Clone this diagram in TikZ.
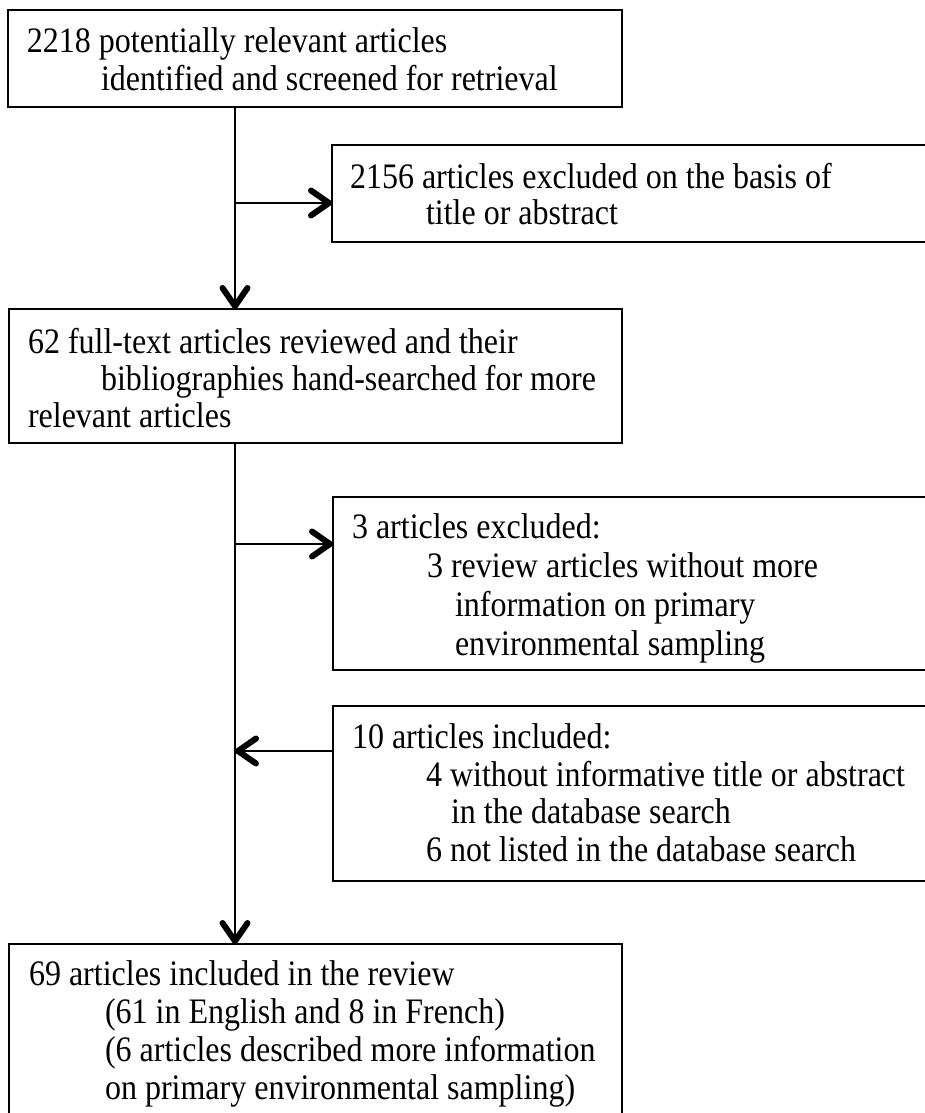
\documentclass[tikz,border=0pt]{standalone}
\usepackage{fontspec}
\usepackage{graphicx}
\setmainfont{Liberation Serif}
\usetikzlibrary{arrows.meta}
\newcommand{\vstretch}[1]{\scalebox{1}[1.12]{#1}}
\tikzset{
  box/.style={draw=black, line width=1.9pt, rectangle, inner sep=0pt, outer sep=0pt},
  txt/.style={anchor=base west, inner sep=0pt, outer sep=0pt, font=\fontsize{32}{38}\selectfont},
  arr/.style={line width=2.2pt, -{Straight Barb[length=18pt,width=25pt,line width=6pt,round]}},
  link/.style={line width=2pt}
}
\begin{document}
\begin{tikzpicture}[x=1pt,y=-1pt]
\path[use as bounding box, clip] (0,0) rectangle (925,1113);
% boxes
\node[box, minimum width=614pt, minimum height=97pt] (b1) at (315,58.5) {};
\node[box, minimum width=603pt, minimum height=97pt] (b2) at (633.5,193.5) {};
\node[box, minimum width=613pt, minimum height=134pt] (b3) at (315.5,376) {};
\node[box, minimum width=602pt, minimum height=173pt] (b4) at (634,583.5) {};
\node[box, minimum width=602pt, minimum height=175pt] (b5) at (634,793.5) {};
\node[box, minimum width=613pt, minimum height=186pt] (b6) at (315.5,1037) {};
% texts
\node[txt] (t1a) at (27,53) {\vstretch{2218 potentially relevant articles}};
\node[txt] (t1b) at (101,91) {\vstretch{identified and screened for retrieval}};
\node[txt] (t2a) at (350,188) {\vstretch{2156 articles excluded on the basis of}};
\node[txt] (t2b) at (426,224) {\vstretch{title or abstract}};
\node[txt] (t3a) at (28,353) {\vstretch{62 full-text articles reviewed and their}};
\node[txt] (t3b) at (101,390) {\vstretch{bibliographies hand-searched for more}};
\node[txt] (t3c) at (28,427) {\vstretch{relevant articles}};
\node[txt] (t4a) at (352,538) {\vstretch{3 articles excluded:}};
\node[txt] (t4b) at (427,577) {\vstretch{3 review articles without more}};
\node[txt] (t4c) at (455,616) {\vstretch{information on primary}};
\node[txt] (t4d) at (455,655) {\vstretch{environmental sampling}};
\node[txt] (t5a) at (352,748) {\vstretch{10 articles included:}};
\node[txt] (t5b) at (426,786) {\vstretch{4 without informative title or abstract}};
\node[txt] (t5c) at (451,823) {\vstretch{in the database search}};
\node[txt] (t5d) at (426,861) {\vstretch{6 not listed in the database search}};
\node[txt] (t6a) at (29,985) {\vstretch{69 articles included in the review}};
\node[txt] (t6b) at (105,1023) {\vstretch{(61 in English and 8 in French)}};
\node[txt] (t6c) at (105,1061) {\vstretch{(6 articles described more information}};
\node[txt] (t6d) at (105,1099) {\vstretch{on primary environmental sampling)}};
% connectors
\coordinate (tx) at (235,0);
\coordinate (j1) at (235,203);
\coordinate (j2) at (235,544);
\coordinate (j3) at (235,751);
\draw[arr] (b1.south -| tx) -- (b3.north -| tx);
\draw[arr] (j1) -- (j1 -| b2.west);
\draw[arr] (b3.south -| tx) -- (b6.north -| tx);
\draw[arr] (j2) -- (j2 -| b4.west);
\draw[arr] (j3 -| b5.west) -- (j3);
\end{tikzpicture}
\end{document}
